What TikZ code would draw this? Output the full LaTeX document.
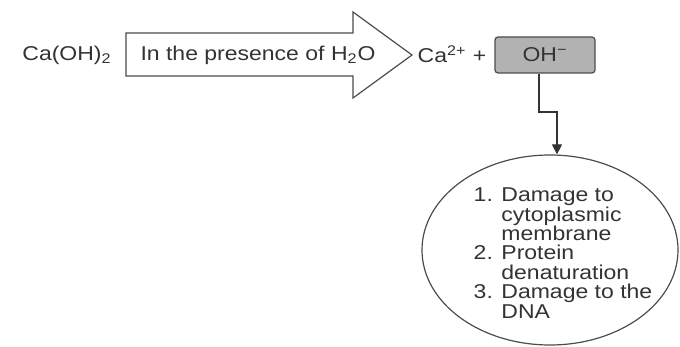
\documentclass[tikz,border=0pt]{standalone}
\usepackage{fontspec}
\setmainfont{Liberation Sans}[FakeStretch=1.15]
\usetikzlibrary{shapes.geometric,arrows.meta}

\tikzset{
  chem/.style={text=black!80, inner sep=1pt},
  ionbox/.style={draw=black!70, fill=black!30, rounded corners=1.5pt, minimum width=50pt, minimum height=18pt, text=black!80},
  effect/.style={draw=black!70, ellipse, minimum width=128pt, minimum height=95pt},
}

\begin{document}
\begin{tikzpicture}[x=0.5pt,y=-0.5pt,line width=0.6pt]
\useasboundingbox (0,0) rectangle (680,347);
% Draw the big reaction arrow
\draw[draw=black!70] (126,33) -- (353,33) -- (353,12) -- (412,55) -- (353,98) -- (353,76) -- (126,76) -- cycle;
% Label the reaction
\node[chem] (caoh) at (67,55) {Ca(OH)\textsubscript{2}};
\node[chem] (cond) at (258,55) {In the presence of H\textsubscript{2}O};
\node[chem] (ions) at (452,54) {Ca\textsuperscript{2+} +};
% The hydroxide ion
\node[ionbox] (oh) at (545,55) {OH\textsuperscript{−}};
% Its effects
\node[effect] (fx) at (550,250) {};
\node[chem, align=left, font=\fontsize{10}{9.7}\selectfont] (list) at (563,253)
  {1. Damage to\\\hphantom{1. }cytoplasmic\\\hphantom{1. }membrane\\2. Protein\\\hphantom{2. }denaturation\\3. Damage to the\\\hphantom{3. }DNA};
% Connect the ion to the effects
\coordinate (bend) at (557,112);
\draw[draw=black!80, -{Triangle[width=5pt,length=5pt]}] ([xshift=-3pt]oh.south) |- (bend) -- (bend |- fx.north);
\end{tikzpicture}
\end{document}
